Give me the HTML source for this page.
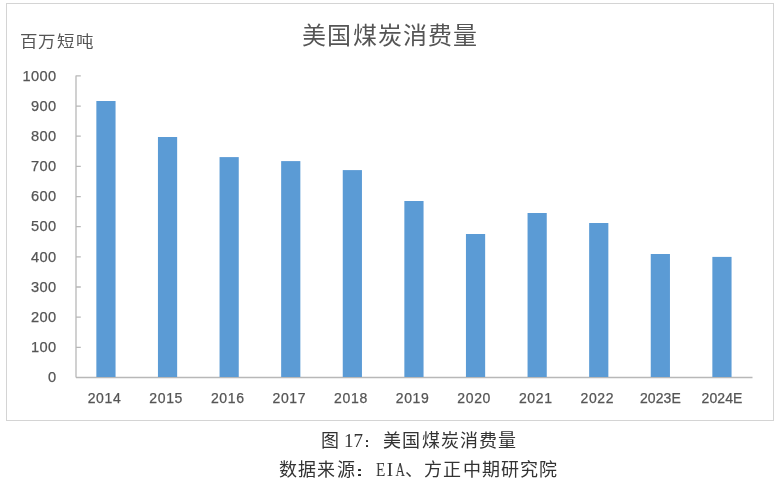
<!DOCTYPE html>
<html lang="zh-CN"><head><meta charset="utf-8"><style>
html,body{-webkit-font-smoothing:antialiased;margin:0;padding:0;background:#fff;width:781px;height:484px;overflow:hidden;position:relative}
svg{position:absolute;left:0;top:0;will-change:transform}
.t{font-family:"Liberation Sans",sans-serif;fill:#555555}
.c{will-change:transform;position:absolute;font-family:"Liberation Serif",serif;color:#333;white-space:nowrap;font-size:18px;letter-spacing:1.2px;line-height:1}
.m{will-change:transform;position:absolute;font-family:"Liberation Serif",serif;color:#333;white-space:nowrap;line-height:1}
.d{position:absolute;width:2.7px;height:2.3px;background:#2a2a2a;border-radius:0.6px}
</style></head><body>
<svg width="781" height="484" viewBox="0 0 781 484">
<rect x="6.5" y="3.5" width="767" height="417" fill="#fff" stroke="#d4d4d4" stroke-width="1"/>
<text class="t" x="390.4" y="43.5" text-anchor="middle" font-size="24" letter-spacing="1.2" fill="#5e5e5e">美国煤炭消费量</text>
<text class="t" transform="translate(19.6,47) scale(1,0.9)" font-size="17.5" letter-spacing="1.0" fill="#595959">百万短吨</text>
<g class="t" stroke="#555555" stroke-width="0.25" font-size="14.6" text-anchor="end" letter-spacing="0.35">
<text x="56.45" y="382.20">0</text><text x="56.45" y="352.04">100</text><text x="56.45" y="321.88">200</text><text x="56.45" y="291.72">300</text><text x="56.45" y="261.56">400</text><text x="56.45" y="231.40">500</text><text x="56.45" y="201.24">600</text><text x="56.45" y="171.08">700</text><text x="56.45" y="140.92">800</text><text x="56.45" y="110.76">900</text><text x="56.45" y="80.60">1000</text>
</g>
<g class="t" stroke="#555555" stroke-width="0.25" font-size="14" text-anchor="middle" letter-spacing="0.65">
<text x="104.57" y="402.9" letter-spacing="0.65">2014</text><text x="166.17" y="402.9" letter-spacing="0.65">2015</text><text x="227.78" y="402.9" letter-spacing="0.65">2016</text><text x="289.38" y="402.9" letter-spacing="0.65">2017</text><text x="350.98" y="402.9" letter-spacing="0.65">2018</text><text x="412.58" y="402.9" letter-spacing="0.65">2019</text><text x="474.18" y="402.9" letter-spacing="0.65">2020</text><text x="535.77" y="402.9" letter-spacing="0.65">2021</text><text x="597.38" y="402.9" letter-spacing="0.65">2022</text><text x="660.40" y="402.9" letter-spacing="0.1">2023E</text><text x="722.00" y="402.9" letter-spacing="0.1">2024E</text>
</g>
<path d="M76 75.4V377.5M76 377.50H80.8M76 347.34H80.8M76 317.18H80.8M76 287.02H80.8M76 256.86H80.8M76 226.70H80.8M76 196.54H80.8M76 166.38H80.8M76 136.22H80.8M76 106.06H80.8M76 75.90H80.8M76 377.5H752.5" stroke="#b8b8b8" stroke-width="1.3" fill="none"/>
<g fill="#5B9BD5">
<rect x="96.35" y="101" width="19.2" height="276.00"/><rect x="157.95" y="137" width="19.2" height="240.00"/><rect x="219.55" y="157.1" width="19.2" height="219.90"/><rect x="281.15" y="161.1" width="19.2" height="215.90"/><rect x="342.75" y="170.1" width="19.2" height="206.90"/><rect x="404.35" y="201" width="19.2" height="176.00"/><rect x="465.95" y="234" width="19.2" height="143.00"/><rect x="527.55" y="213" width="19.2" height="164.00"/><rect x="589.15" y="223" width="19.2" height="154.00"/><rect x="650.75" y="254" width="19.2" height="123.00"/><rect x="712.35" y="256.9" width="19.2" height="120.10"/>
</g>
</svg>
<div class="c" style="left:321px;top:432px">图</div>
<div class="m" style="left:343.7px;top:431px;font-size:19px">17</div>
<div class="c" style="left:364px;top:432px">　美国煤炭消费量</div>
<div class="d" style="left:365.7px;top:440.2px"></div><div class="d" style="left:365.7px;top:444.6px"></div>
<div class="c" style="left:279px;top:460.7px">数据来源</div>
<div class="d" style="left:358.4px;top:469.2px"></div><div class="d" style="left:358.4px;top:473.6px"></div>
<div class="m" style="left:375.2px;width:9.6px;text-align:center;top:459.7px;font-size:19px;transform:scaleX(0.8)">E</div>
<div class="m" style="left:385.2px;width:9.6px;text-align:center;top:459.7px;font-size:19px">I</div>
<div class="m" style="left:394.4px;width:9.6px;text-align:center;top:459.7px;font-size:19px;transform:scaleX(0.68)">A</div>
<div class="c" style="left:405px;top:460.7px">、方正中期研究院</div>
</body></html>
